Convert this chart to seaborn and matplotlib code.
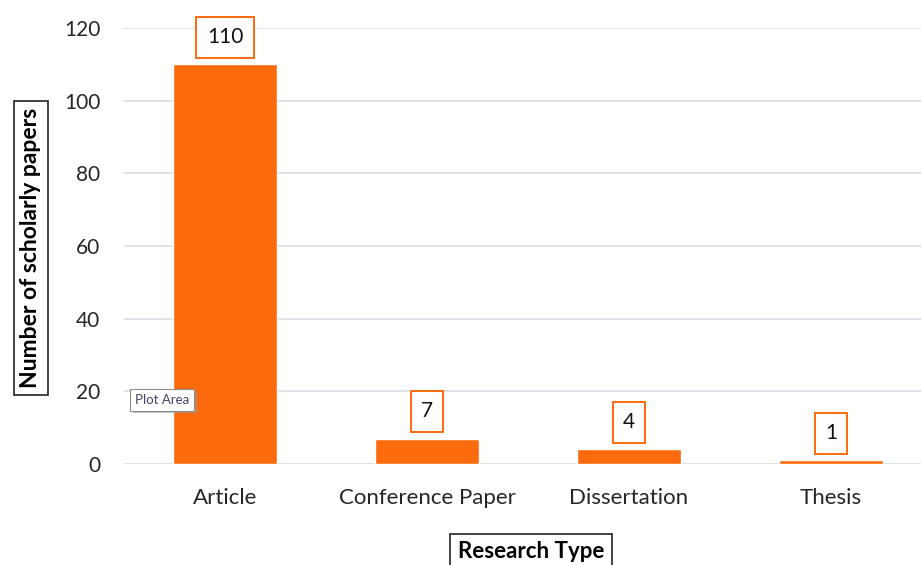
import matplotlib
matplotlib.use("Agg")
import matplotlib.pyplot as plt
import matplotlib.patheffects as pe
import seaborn as sns
import pandas as pd

research_types = ["Article", "Conference Paper", "Dissertation", "Thesis"]
paper_counts = [110, 7, 4, 1]
y_ticks = [0, 20, 40, 60, 80, 100, 120]

df = pd.DataFrame({"type": research_types, "count": paper_counts})

sns.set_theme(style="white")
plt.rcParams["font.family"] = ["Lato", "DejaVu Sans"]

W, H = 921, 565
fig = plt.figure(figsize=(W / 100, H / 100), dpi=100)
# axes: left 124px, right 932px, y=0 at 464px, y=120 at 28px
ax = fig.add_axes([124 / W, (H - 464) / H, 808 / W, 436 / H])

bar_color = "#FC6A0E"
sns.barplot(data=df, x="type", y="count", color=bar_color, width=0.51,
            saturation=1, ax=ax, zorder=3)

ax.set_ylim(0, 120)
ax.set_yticks(y_ticks)
ax.set_xlim(-0.5, len(research_types) - 0.5)
for s in ax.spines.values():
    s.set_visible(False)
ax.yaxis.grid(True, color="#DADDE6", linewidth=1.2, zorder=0)
ax.set_axisbelow(True)
ax.tick_params(axis="both", length=0, colors="#262626")
ax.tick_params(axis="x", pad=17, labelsize=16)
ax.tick_params(axis="y", pad=17, labelsize=15)
ax.set_xlabel("")
ax.set_ylabel("")

# value labels in orange-outlined boxes
for i, v in enumerate(paper_counts):
    ax.annotate(str(v), xy=(i, v), xytext=(0, 19.5), textcoords="offset points",
                ha="center", va="center", fontsize=15, color="#111111",
                bbox=dict(boxstyle="square,pad=0.5", fc="white",
                          ec=bar_color, lw=1.4), zorder=5)

# boxed axis titles
fig.text(31 / W, 1 - 248 / H, "Number of scholarly papers", rotation=90,
         ha="center", va="center", fontsize=16.5, fontweight="bold",
         color="black",
         bbox=dict(boxstyle="square,pad=0.3", fc="white", ec="#222222", lw=1.2))
fig.text(531 / W, 1 - 552 / H, "Research Type", ha="center", va="center",
         fontsize=16, fontweight="bold", color="black",
         bbox=dict(boxstyle="square,pad=0.35", fc="white", ec="#222222", lw=1.2))

# hover tooltip
tip = fig.text(135 / W, 1 - 400 / H, "Plot Area", ha="left", va="center",
               fontsize=9.5, color="#444466", zorder=10,
               bbox=dict(boxstyle="square,pad=0.35", fc="white", ec="#8C8C8C",
                         lw=0.8))
tip.get_bbox_patch().set_path_effects(
    [pe.SimplePatchShadow(offset=(2, -2), shadow_rgbFace="#9A9A9A", alpha=0.6),
     pe.Normal()])

fig.savefig("out.png", dpi=100)
